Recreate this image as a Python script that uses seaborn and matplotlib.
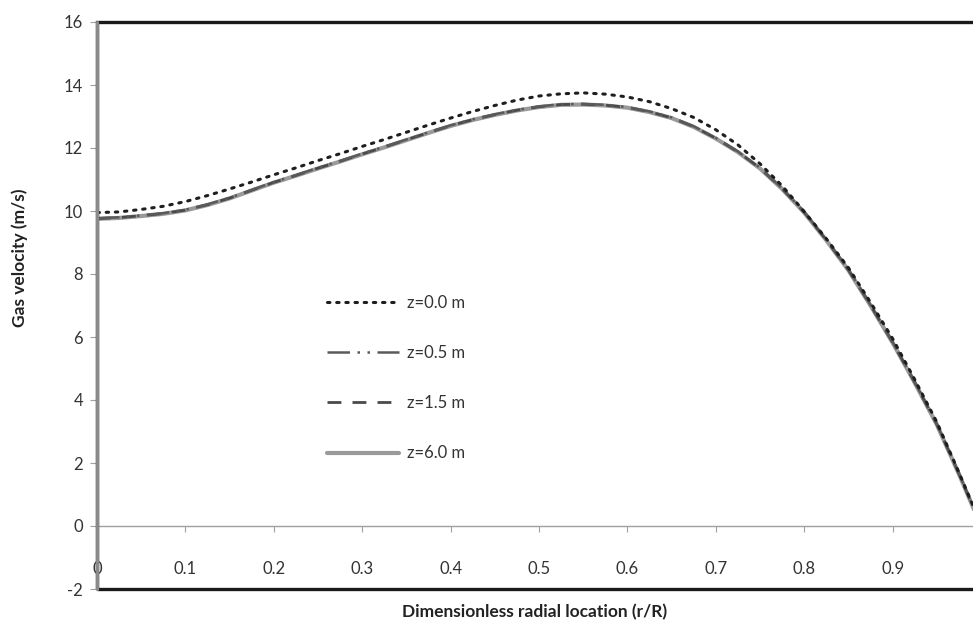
import matplotlib
matplotlib.use("Agg")
import matplotlib.pyplot as plt
from matplotlib.patches import Rectangle
import seaborn as sns
import pandas as pd

r = [0.0, 0.025, 0.05, 0.075, 0.1, 0.125, 0.15, 0.175, 0.2, 0.225, 0.25,
     0.275, 0.3, 0.325, 0.35, 0.375, 0.4, 0.425, 0.45, 0.475, 0.5,
     0.525, 0.55, 0.575, 0.6, 0.625, 0.65, 0.675, 0.7, 0.725, 0.75,
     0.775, 0.8, 0.825, 0.85, 0.875, 0.9, 0.925, 0.95, 0.975, 1.0]
v_z00 = [9.95, 9.97, 10.05, 10.15, 10.30, 10.49, 10.70, 10.92, 11.15, 11.37, 11.60,
         11.82, 12.05, 12.27, 12.50, 12.73, 12.95, 13.16, 13.35, 13.52, 13.65,
         13.72, 13.75, 13.71, 13.62, 13.47, 13.25, 12.97, 12.58, 12.10, 11.50,
         10.80, 9.98, 9.12, 8.20, 7.10, 5.95, 4.65, 3.30, 1.70, 0.05]
v_z05 = [9.77, 9.80, 9.86, 9.93, 10.04, 10.21, 10.42, 10.67, 10.92, 11.14, 11.37,
         11.59, 11.82, 12.04, 12.27, 12.50, 12.72, 12.91, 13.07, 13.21, 13.32,
         13.39, 13.40, 13.37, 13.30, 13.16, 12.97, 12.69, 12.32, 11.89, 11.37,
         10.72, 9.97, 9.09, 8.14, 7.02, 5.84, 4.57, 3.24, 1.67, 0.02]
v_z15 = [9.76, 9.79, 9.85, 9.92, 10.03, 10.20, 10.41, 10.66, 10.91, 11.13, 11.36,
         11.58, 11.81, 12.03, 12.26, 12.49, 12.71, 12.90, 13.06, 13.20, 13.31,
         13.38, 13.39, 13.36, 13.29, 13.15, 12.96, 12.68, 12.31, 11.88, 11.36,
         10.71, 9.96, 9.08, 8.13, 7.01, 5.83, 4.56, 3.23, 1.66, 0.01]
v_z60 = [9.75, 9.78, 9.84, 9.91, 10.02, 10.19, 10.40, 10.65, 10.90, 11.12, 11.35,
         11.57, 11.80, 12.02, 12.25, 12.48, 12.70, 12.89, 13.05, 13.19, 13.30,
         13.37, 13.38, 13.35, 13.28, 13.14, 12.95, 12.67, 12.30, 11.87, 11.35,
         10.70, 9.95, 9.07, 8.12, 7.00, 5.82, 4.55, 3.22, 1.65, 0.00]
labels = ["z=0.0 m", "z=0.5 m", "z=1.5 m", "z=6.0 m"]
x_ticks = [0.0, 0.1, 0.2, 0.3, 0.4, 0.5, 0.6, 0.7, 0.8, 0.9]
x_tick_labels = ["0", "0.1", "0.2", "0.3", "0.4", "0.5", "0.6", "0.7", "0.8", "0.9"]
y_ticks = [-2, 0, 2, 4, 6, 8, 10, 12, 14, 16]

sns.set_style("white")
plt.rcParams["font.family"] = ["Lato", "DejaVu Sans"]
plt.rcParams["axes.unicode_minus"] = False

fig = plt.figure(figsize=(9.73, 6.35), dpi=100)
ax = fig.add_axes([97 / 973, 46 / 635, 878 / 973, 567 / 635])

styles = {
    "z=6.0 m": dict(color="#9a9a9a", lw=3.0, dashes=None),
    "z=1.5 m": dict(color="#4a4a4a", lw=2.0, dashes=(5, 4)),
    "z=0.5 m": dict(color="#5a5a5a", lw=1.8, dashes=(9, 3, 1, 3, 1, 3)),
    "z=0.0 m": dict(color="#1e1e1e", lw=2.2, dashes=(0.8, 2.2)),
}
series = {"z=0.0 m": v_z00, "z=0.5 m": v_z05, "z=1.5 m": v_z15, "z=6.0 m": v_z60}

handles = {}
for lab in ["z=6.0 m", "z=1.5 m", "z=0.5 m", "z=0.0 m"]:
    df = pd.DataFrame({"r": r, "v": series[lab]})
    st = styles[lab]
    sns.lineplot(data=df, x="r", y="v", ax=ax, color=st["color"], linewidth=st["lw"],
                 label=lab)
    line = ax.get_lines()[-1]
    line.set_solid_joinstyle("round")
    if st["dashes"] is not None:
        line.set_dashes(st["dashes"])
        if lab == "z=0.0 m":
            line.set_dash_capstyle("round")
    handles[lab] = line

ax.set_xlim(0, 0.9932)
ax.set_ylim(-2, 16)

for s in ["top", "right", "left"]:
    ax.spines[s].set_visible(False)
ax.spines["bottom"].set_position(("data", 0))
ax.spines["bottom"].set_color("#a0a0a0")
ax.spines["bottom"].set_linewidth(1.0)

ax.set_xticks(x_ticks)
ax.set_xticklabels(x_tick_labels)
ax.set_yticks(y_ticks)
ax.tick_params(axis="x", direction="out", length=4, color="#a0a0a0", pad=21,
               labelsize=12, labelcolor="#333333", bottom=True)
ax.tick_params(axis="y", direction="out", length=5, color="#a0a0a0", pad=5,
               labelsize=12, labelcolor="#333333", left=True)

ax.add_patch(Rectangle((0, 0), 1, 1, transform=ax.transAxes, fill=False,
                       edgecolor="#1a1a1a", linewidth=2.4, clip_on=False, zorder=5))
ax.plot([0, 0], [0, 1], transform=ax.transAxes, color="#8a8a8a", lw=2.4,
        clip_on=False, zorder=6)

ax.set_xlabel("Dimensionless radial location (r/R)", fontsize=12.5, fontweight="bold",
              color="#222222")
ax.xaxis.set_label_coords(438 / 878, -0.026)
ax.set_ylabel("Gas velocity (m/s)", fontsize=12.5, fontweight="bold", color="#222222")
ax.yaxis.set_label_coords(-0.079, 0.585)

leg = ax.legend([handles[l] for l in labels], labels, loc="upper left",
                bbox_to_anchor=(0.245, 0.545), frameon=False, fontsize=12,
                handlelength=4.3, handletextpad=0.5, labelspacing=2.05)
for t in leg.get_texts():
    t.set_color("#333333")

fig.savefig("out.png", dpi=100)
